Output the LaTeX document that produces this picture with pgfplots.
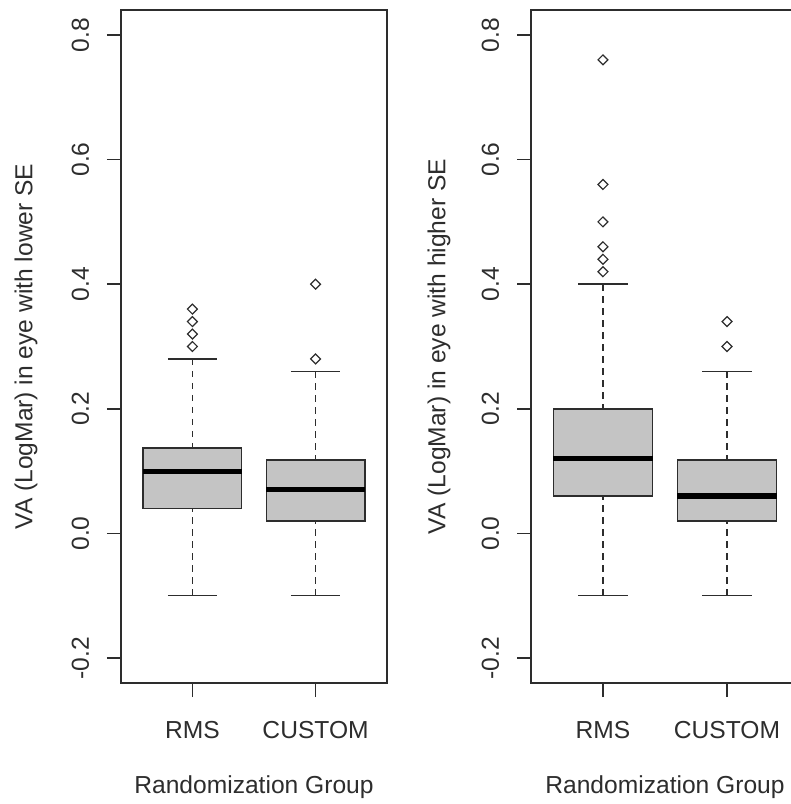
\documentclass[border=0pt]{standalone}
\usepackage{pgfplots}
\pgfplotsset{compat=1.18}
\usepgfplotslibrary{statistics}
\usepackage{fontspec}
\setmainfont{Liberation Sans}
\definecolor{boxgray}{RGB}{196,196,196}
\definecolor{axgray}{RGB}{45,45,45}
\pgfplotsset{
 rbox/.style={
  scale only axis, height=336.5pt,
  xmin=0.42, xmax=2.58, ymin=-0.24, ymax=0.84,
  xtick={1,2}, xticklabels={RMS,CUSTOM},
  ytick={-0.2,0,0.2,0.4,0.6,0.8}, yticklabels={-0.2,0.0,0.2,0.4,0.6,0.8},
  tick align=outside, major tick length=7pt, xtick pos=bottom, ytick pos=left,
  tick style={line width=0.75pt, axgray},
  axis line style={line width=0.75pt, axgray},
  font=\fontsize{12.3}{14}\selectfont,
  yticklabel style={rotate=90, anchor=south, inner sep=0pt, text=axgray},
  yticklabel shift=8.75pt,
  xticklabel style={anchor=north, inner sep=0pt, text=axgray},
  xticklabel shift=12pt,
  xlabel={Randomization Group},
  every axis x label/.style={at={(axis description cs:0.5,-0.1545)}, anchor=center, text=axgray},
  boxplot/draw direction=y,
  boxplot/box extend=0.8, boxplot/whisker extend=0.4,
  boxplot/every box/.style={fill=boxgray, draw=axgray, line width=0.7pt},
  boxplot/every median/.style={black, line width=2.6pt},
  boxplot/draw/lower whisker/.code={
   \draw[axgray, line width=0.7pt, dash pattern=on 3.2pt off 2.8pt] (boxplot box cs:\pgfplotsboxplotvalue{lower whisker},0.5) -- (boxplot box cs:\pgfplotsboxplotvalue{lower quartile},0.5);
   \draw[axgray, line width=0.7pt] (boxplot whisker cs:\pgfplotsboxplotvalue{lower whisker},0) -- (boxplot whisker cs:\pgfplotsboxplotvalue{lower whisker},1);
  },
  boxplot/draw/upper whisker/.code={
   \draw[axgray, line width=0.7pt, dash pattern=on 3.2pt off 2.8pt] (boxplot box cs:\pgfplotsboxplotvalue{upper whisker},0.5) -- (boxplot box cs:\pgfplotsboxplotvalue{upper quartile},0.5);
   \draw[axgray, line width=0.7pt] (boxplot whisker cs:\pgfplotsboxplotvalue{upper whisker},0) -- (boxplot whisker cs:\pgfplotsboxplotvalue{upper whisker},1);
  },
 },
 rbp/.style={solid, draw=axgray, mark=square, mark size=1.75pt,
  mark options={rotate=45, solid, fill=white, draw=axgray, line width=0.6pt}},
}
\begin{document}
\begin{tikzpicture}
\begin{axis}[rbox, width=133pt, at={(60.5pt,60.5pt)}, anchor=south west,
  ylabel={VA (LogMar) in eye with lower SE},
  every axis y label/.style={at={(axis description cs:-0.3571,0.5)}, rotate=90, anchor=center, text=axgray}]
\addplot[rbp, boxplot prepared={draw position=1, lower whisker=-0.1, lower quartile=0.04, median=0.10, upper quartile=0.137, upper whisker=0.28}]
  table[row sep=\\, y index=0] {0.30\\ 0.32\\ 0.34\\ 0.36\\};
\addplot[rbp, boxplot prepared={draw position=2, lower whisker=-0.1, lower quartile=0.02, median=0.07, upper quartile=0.118, upper whisker=0.26}]
  table[row sep=\\, y index=0] {0.28\\ 0.40\\};
\end{axis}
\begin{axis}[rbox, width=134pt, at={(265.5pt,60.5pt)}, anchor=south west,
  ylabel={VA (LogMar) in eye with higher SE},
  every axis y label/.style={at={(axis description cs:-0.3433,0.5)}, rotate=90, anchor=center, text=axgray}]
\addplot[rbp, boxplot prepared={draw position=1, lower whisker=-0.1, lower quartile=0.06, median=0.12, upper quartile=0.20, upper whisker=0.40}]
  table[row sep=\\, y index=0] {0.42\\ 0.44\\ 0.46\\ 0.50\\ 0.56\\ 0.76\\};
\addplot[rbp, boxplot prepared={draw position=2, lower whisker=-0.1, lower quartile=0.02, median=0.06, upper quartile=0.118, upper whisker=0.26}]
  table[row sep=\\, y index=0] {0.30\\ 0.34\\};
\end{axis}
\pgfresetboundingbox
\path[use as bounding box] (0,0) rectangle (395.5pt,402pt);
\end{tikzpicture}
\end{document}
